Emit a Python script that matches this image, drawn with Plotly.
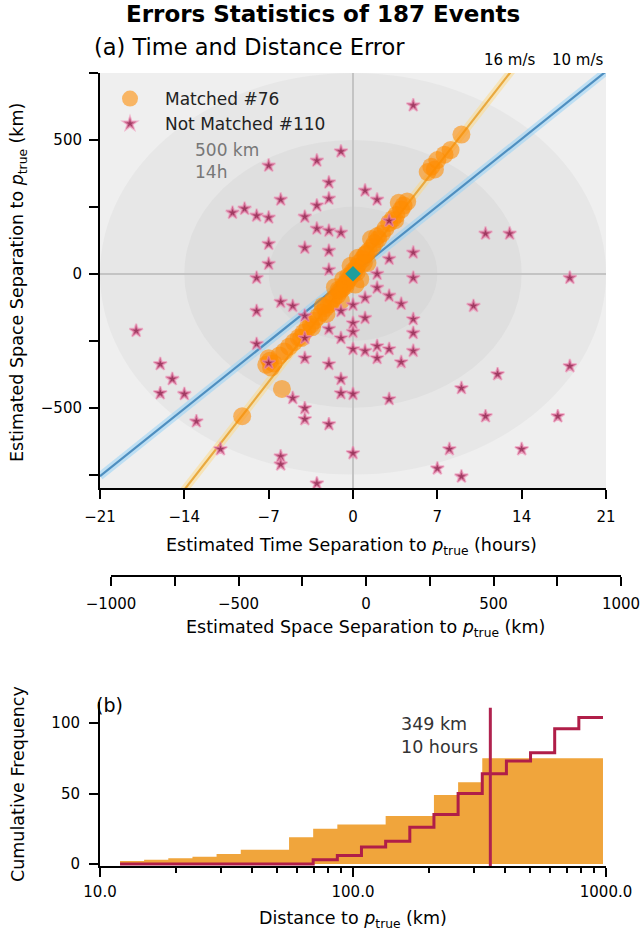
import math
import plotly.graph_objects as go

# ---------------- data ----------------
matched_hours = [8.1, 7.6, 7.0, 6.5, 6.2, 6.8, 9.0,
                 4.5, 4.2, 4.0, 3.8, 3.6, 3.3, 3.0, 2.7,
                 2.4, 2.1, 1.8, 1.6, 1.3, 1.0, 0.8, 0.5, 0.3, 0.1, -0.1, -0.3, -0.5, -0.7, -0.9,
                 -1.1, -1.3, -1.6, -1.8, -2.0, -2.3, -2.6, -2.9, -3.2, -3.5, -3.8, -4.1, -4.5,
                 -4.9, -5.3, -5.7, -6.1,
                 0.4, -0.2, 0.6, -0.8, 1.2, -1.5, -2.2, -1.0, 0.2, 1.5,
                 -6.9, -6.6, -7.2, -6.8, -7.0, -5.9, -9.2,
                 0.0, -0.4, 0.3, -0.6, -1.2, 0.9, 1.1, -2.5, -3.4, 2.0, 3.5, -4.3]
matched_km = [462, 445, 425, 400, 380, 390, 520,
              270, 255, 240, 265, 220, 205, 190, 170,
              150, 130, 115, 100, 85, 70, 55, 40, 25, 8, -5, -18, -30, -40, -55,
              -65, -80, -92, -105, -115, -128, -145, -160, -175, -190, -205, -220, -238,
              -255, -272, -290, -305,
              60, 30, -20, -20, 40, -50, -150, -100, -40, 130,
              -325, -335, -340, -350, -315, -430, -532,
              10, -10, 5, -45, -60, 40, 75, -120, -200, 140, 200, -240]

unmatched_hours = [5, -1, -3, -7, -2, 1, -2, 2, -6, -3, -10, -9, -8, -7, -4, 3, -3, -2, -1,
                   11, 13, -7, -4, -2, 5, 3, -7, -2, 5, 18, -8, 2, 3, 4, 10, 5, 5, 5,
                   -6, -5, -8, -4, -2, -1, 0, 0, 1, 0, 1, -1, 0, 2, 3, 4, -4, -4, -2, -8, -7,
                   -18, -16, -15, -16, -14, -1, -1, 0, -5, -4, -4, -13, -2, -11, -6, -6, 0, -3,
                   12, 18, 9, 3, 11, 17, 8, 14, 7, 9, 2, 2, 1]
unmatched_km = [629, 457, 423, 404, 341, 311, 281, 277, 277, 255, 228, 243, 217, 210, 213, 198, 169, 161, 154,
                150, 150, 112, 97, 86, 79, 56, 37, 15, -15, -15, -15, -52, -82, -112, -120, -169, -221, -288,
                -105, -120, -139, -157, -206, -139, -116, -184, -165, -217, -288, -240, -281, -315, -281, -330,
                -240, -315, -337, -262, -333,
                -213, -337, -393, -446, -449, -393, -446, -449, -464, -502, -543, -551, -562, -655, -682, -712,
                -670, -783,
                -375, -345, -427, -468, -532, -532, -655, -655, -727, -757, -270, 0, -90]

origin_hours = [0]
origin_km = [0]

speed_ms = [16, 10]
speed_labels = ["16 m/s", "10 m/s"]
ring_hours = [21, 14, 7]
ring_km = [750, 500, 250]
ring_label = "500 km<br>14h"

time_range = [-21, 21]
space_range_a = [-800, 750]
time_ticks = [-21, -14, -7, 0, 7, 14, 21]
space_ticks_a = [-500, 0, 500]
space_minor_a = [-750, -250, 250, 750]
space_range_b = [-1000, 1000]
space_ticks_b = [-1000, -500, 0, 500, 1000]
space_minor_b = [-750, -250, 250, 750]

hist_edges_km = [12.0, 14.94, 18.62, 23.20, 28.89, 36.00, 44.85, 55.88, 69.60, 86.72, 108.0,
                 134.6, 167.7, 208.9, 260.3, 324.3, 404.0, 503.2, 626.9, 781.0, 972.9]
matched_cum = [2, 3, 4, 5, 7, 10, 10, 19, 25, 28, 28, 34, 34, 49, 58, 75, 75, 75, 75, 75]
unmatched_cum = [0, 0, 0, 0, 0, 0, 0, 0, 3, 6, 12, 16, 26, 35, 50, 64, 73, 79, 96, 104]
threshold_km = 349
threshold_hours = 10
dist_ticks = [10, 100, 1000]
dist_ticklabels = ["10.0", "100.0", "1000.0"]
dist_minor = [20, 30, 40, 50, 60, 70, 80, 90, 200, 300, 400, 500, 600, 700, 800, 900]
freq_ticks = [0, 50, 100]
freq_range = [-1.5, 115]

# ---------------- layout helpers ----------------
W, H = 642, 934
FONT = "DejaVu Sans"


def fx(px):
    return px / W


def fy(py):
    return 1 - py / H


fig = go.Figure()

# speed lines (halo + core)
halo_cols = ["rgba(255,215,120,0.45)", "rgba(150,210,245,0.55)"]
core_cols = ["#E9A93F", "#4F8FC0"]
for v, hc, cc in zip(speed_ms, halo_cols, core_cols):
    ys = [v * 3.6 * t for t in time_range]
    fig.add_trace(go.Scatter(x=time_range, y=ys, mode="lines", line=dict(color=hc, width=8),
                             showlegend=False, hoverinfo="skip", xaxis="x", yaxis="y"))
    fig.add_trace(go.Scatter(x=time_range, y=ys, mode="lines", line=dict(color=cc, width=2.2),
                             showlegend=False, hoverinfo="skip", xaxis="x", yaxis="y"))

fig.add_trace(go.Scatter(x=matched_hours, y=matched_km, mode="markers", name="Matched #76",
                         marker=dict(size=18, color="rgba(255,140,0,0.58)", line=dict(width=0)),
                         xaxis="x", yaxis="y"))
fig.add_trace(go.Scatter(x=unmatched_hours, y=unmatched_km, mode="markers", name="Not Matched #110",
                         marker=dict(symbol="star", size=10, color="rgba(150,35,80,0.88)",
                                     line=dict(color="rgba(240,140,180,0.6)", width=2)),
                         xaxis="x", yaxis="y"))
fig.add_trace(go.Scatter(x=origin_hours, y=origin_km, mode="markers", showlegend=False,
                         marker=dict(symbol="diamond", size=12, color="#1F9E9E"),
                         xaxis="x", yaxis="y"))

# dummy trace for the secondary km axis
fig.add_trace(go.Scatter(x=space_range_b, y=[0, 0], mode="markers", marker=dict(opacity=0),
                         showlegend=False, hoverinfo="skip", xaxis="x2", yaxis="y2"))

# cumulative histograms
fig.add_trace(go.Scatter(x=hist_edges_km, y=matched_cum + [matched_cum[-1]], mode="lines",
                         line=dict(shape="hv", width=0, color="#F0A53C"), fill="tozeroy",
                         fillcolor="#F0A53C", showlegend=False, hoverinfo="skip",
                         xaxis="x3", yaxis="y3"))
fig.add_trace(go.Scatter(x=hist_edges_km, y=unmatched_cum + [unmatched_cum[-1]], mode="lines",
                         line=dict(shape="hv", width=3, color="#B01E48"), showlegend=False,
                         hoverinfo="skip", xaxis="x3", yaxis="y3"))

# ---------------- shapes ----------------
shapes = [dict(type="rect", xref="x domain", yref="y domain", x0=0, x1=1, y0=0, y1=1,
               fillcolor="#efefef", line=dict(width=0), layer="below")]
ring_cols = ["#e7e7e7", "#dfdfdf", "#d9d9d9"]
for rh, rk, col in zip(ring_hours, ring_km, ring_cols):
    shapes.append(dict(type="circle", xref="x", yref="y", x0=-rh, x1=rh, y0=-rk, y1=rk,
                       fillcolor=col, line=dict(width=0), layer="below"))
shapes.append(dict(type="line", xref="x3", yref="y3 domain", x0=threshold_km, x1=threshold_km,
                   y0=0, y1=0.965, line=dict(color="#B0224F", width=3)))

# ---------------- annotations ----------------
TITLE_SIZE = 17.5
ann = []
ann.append(dict(text="<b>Errors Statistics of 187 Events</b>", x=fx(323), y=fy(14), xref="paper", yref="paper",
                showarrow=False, font=dict(family=FONT, size=23, color="black"), xanchor="center", yanchor="middle"))
ann.append(dict(text="(a) Time and Distance Error", x=fx(92), y=fy(47), xref="paper", yref="paper",
                showarrow=False, font=dict(family=FONT, size=22.5, color="black"), xanchor="left", yanchor="middle"))
t_end16 = space_range_a[1] / (speed_ms[0] * 3.6)
ann.append(dict(text=speed_labels[0], x=t_end16, y=fy(60), xref="x", yref="paper", showarrow=False,
                font=dict(family=FONT, size=15, color="black"), xanchor="center", yanchor="middle"))
ann.append(dict(text=speed_labels[1], x=time_range[1], y=fy(60), xref="x", yref="paper", showarrow=False,
                font=dict(family=FONT, size=15, color="black"), xanchor="right", yanchor="middle"))
ann.append(dict(text=ring_label, x=-13.3, y=335, xref="x", yref="y", showarrow=False, align="left",
                font=dict(family=FONT, size=17, color="#777777"), xanchor="left", yanchor="bottom"))
ann.append(dict(text="Estimated Space Separation to <i>p</i><sub>true</sub> (km)", x=fx(18), y=fy(283),
                xref="paper", yref="paper", showarrow=False, textangle=-90,
                font=dict(family=FONT, size=TITLE_SIZE, color="black"), xanchor="center", yanchor="middle"))
ann.append(dict(text="Estimated Time Separation to <i>p</i><sub>true</sub> (hours)", x=fx(351), y=fy(546),
                xref="paper", yref="paper", showarrow=False,
                font=dict(family=FONT, size=TITLE_SIZE, color="black"), xanchor="center", yanchor="middle"))
ann.append(dict(text="Estimated Space Separation to <i>p</i><sub>true</sub> (km)", x=fx(366), y=fy(628),
                xref="paper", yref="paper", showarrow=False,
                font=dict(family=FONT, size=TITLE_SIZE, color="black"), xanchor="center", yanchor="middle"))
ann.append(dict(text="(b)", x=fx(94), y=fy(705), xref="paper", yref="paper", showarrow=False,
                font=dict(family=FONT, size=19, color="black"), xanchor="left", yanchor="middle"))
ann.append(dict(text="Cumulative Frequency", x=fx(18), y=fy(784), xref="paper", yref="paper",
                showarrow=False, textangle=-90, font=dict(family=FONT, size=TITLE_SIZE, color="black"),
                xanchor="center", yanchor="middle"))
ann.append(dict(text="Distance to <i>p</i><sub>true</sub> (km)", x=fx(353), y=fy(919), xref="paper",
                yref="paper", showarrow=False, font=dict(family=FONT, size=TITLE_SIZE, color="black"),
                xanchor="center", yanchor="middle"))
ann.append(dict(text=f"{threshold_km} km<br>{threshold_hours} hours", x=math.log10(threshold_km), y=91,
                xref="x3", yref="y3", showarrow=False, align="left", xshift=-10,
                font=dict(family=FONT, size=17.5, color="#333333"), xanchor="right", yanchor="middle"))

tick_font = dict(family=FONT, size=15, color="black")
axis_common = dict(showline=True, linecolor="black", linewidth=2, ticks="outside", ticklen=9,
                   tickwidth=2, tickcolor="black", showgrid=False, tickfont=tick_font)
minor_style = dict(ticks="outside", ticklen=9, tickwidth=2, tickcolor="black")

fig.update_layout(
    width=W, height=H,
    margin=dict(l=0, r=0, t=0, b=0, autoexpand=False),
    paper_bgcolor="white", plot_bgcolor="white",
    font=dict(family=FONT, color="black"),
    showlegend=True,
    legend=dict(x=fx(95), y=fy(81), xanchor="left", yanchor="top", bgcolor="rgba(0,0,0,0)",
                font=dict(family=FONT, size=17, color="#222222"), itemsizing="trace",
                itemwidth=60, tracegroupgap=0),
    xaxis=dict(domain=[fx(100), fx(606)], range=time_range, tickvals=time_ticks, anchor="y",
               ticklabelstandoff=5,
               zeroline=True, zerolinecolor="#c4c4c4", zerolinewidth=1.5, **axis_common),
    yaxis=dict(domain=[fy(488), fy(73)], range=space_range_a, tickvals=space_ticks_a, anchor="x",
               minor=dict(tickvals=space_minor_a, **minor_style), ticklabelstandoff=4,
               zeroline=True, zerolinecolor="#c4c4c4", zerolinewidth=1.5, **axis_common),
    xaxis2=dict(domain=[fx(111), fx(621)], range=space_range_b, tickvals=space_ticks_b,
                minor=dict(tickvals=space_minor_b, **minor_style), ticklabelstandoff=5,
                anchor="y2", zeroline=False, **axis_common),
    yaxis2=dict(domain=[fy(575), fy(570)], range=[0, 1], visible=False, anchor="x2"),
    xaxis3=dict(domain=[fx(100), fx(606)], type="log", range=[1, 3], tickvals=dist_ticks,
                ticktext=dist_ticklabels, anchor="y3", zeroline=False, ticklabelstandoff=2,
                minor=dict(tickvals=dist_minor, ticks="outside", ticklen=5, tickwidth=1.5,
                           tickcolor="black"),
                **axis_common),
    yaxis3=dict(domain=[fy(866), fy(702)], range=freq_range, tickvals=freq_ticks, anchor="x3",
                ticklabelstandoff=6, zeroline=False, **axis_common),
    shapes=shapes,
    annotations=ann,
)

fig.write_html("out.html", config={"displayModeBar": False},
               post_script="document.body.style.margin='0px';")
